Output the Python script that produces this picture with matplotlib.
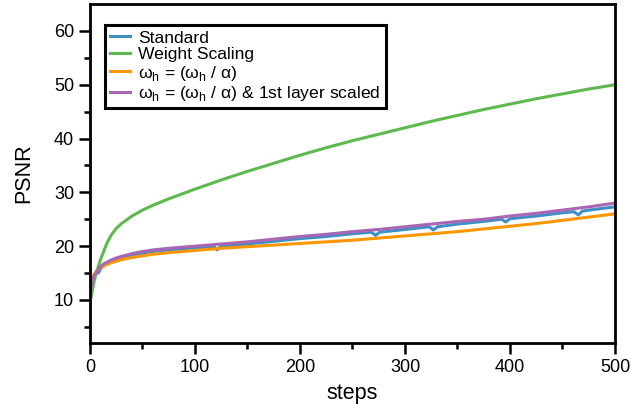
import matplotlib
matplotlib.use('Agg')
import matplotlib.pyplot as plt

plt.rcParams['font.family'] = ['Liberation Sans', 'DejaVu Sans']

steps = [0, 2, 4, 6, 8, 10, 13, 16, 20, 25, 30, 40, 50, 60, 75, 100, 125, 150,
         175, 200, 225, 250, 275, 300, 325, 350, 375, 400, 425, 450, 475, 500]

weight_scaling = [9.5, 11.5, 13.5, 15.0, 16.3, 17.5, 19.0, 20.5, 22.0, 23.3, 24.2,
                  25.6, 26.7, 27.6, 28.8, 30.6, 32.3, 33.9, 35.4, 36.9, 38.3, 39.6,
                  40.8, 42.0, 43.2, 44.3, 45.4, 46.4, 47.4, 48.3, 49.2, 50.0]

omega_scaled = [12.0, 13.8, 14.8, 15.3, 15.7, 16.0, 16.3, 16.6, 16.9, 17.2, 17.5,
                17.9, 18.2, 18.5, 18.8, 19.2, 19.6, 19.9, 20.2, 20.5, 20.8, 21.1,
                21.5, 21.9, 22.3, 22.7, 23.2, 23.7, 24.2, 24.8, 25.4, 26.0]

omega_first_layer = [11.0, 13.5, 14.5, 15.0, 15.6, 16.2, 16.7, 17.0, 17.4, 17.8, 18.1,
                     18.6, 19.0, 19.3, 19.6, 20.0, 20.4, 20.8, 21.3, 21.8, 22.2, 22.7,
                     23.1, 23.6, 24.1, 24.6, 25.0, 25.6, 26.1, 26.7, 27.3, 28.0]

std_steps = [0, 2, 4, 6, 8, 10, 13, 16, 20, 25, 30, 40, 50, 60, 75, 100, 118, 121,
             124, 150, 175, 200, 225, 250, 268, 272, 276, 300, 323, 327, 331, 350,
             375, 392, 396, 400, 425, 450, 461, 465, 469, 475, 500]
standard = [10.5, 13.0, 14.2, 15.3, 15.0, 15.8, 16.4, 16.8, 17.1, 17.5, 17.8,
            18.3, 18.7, 19.0, 19.3, 19.7, 19.9, 19.3, 19.9, 20.4, 20.9, 21.4,
            21.8, 22.3, 22.6, 22.0, 22.6, 23.1, 23.6, 23.0, 23.6, 24.1,
            24.6, 25.0, 24.5, 25.1, 25.6, 26.2, 26.4, 25.8, 26.5, 26.7, 27.3]

colors = ['#3D8FC6', '#5DB94E', '#FF9500', '#A866B5']

fig = plt.figure(figsize=(6.31, 4.04), dpi=100)
ax = fig.add_axes([0.1426, 0.151, 0.832, 0.839])

lw = 2.2
ax.plot(std_steps, standard, color=colors[0], lw=lw, label='Standard')
ax.plot(steps, weight_scaling, color=colors[1], lw=lw, label='Weight Scaling')
ax.plot(steps, omega_scaled, color=colors[2], lw=lw,
        label='ω$_\\mathregular{h}$ = (ω$_\\mathregular{h}$ / α)')
ax.plot(steps, omega_first_layer, color=colors[3], lw=lw,
        label='ω$_\\mathregular{h}$ = (ω$_\\mathregular{h}$ / α) & 1st layer scaled')

ax.set_xlim(0, 500)
ax.set_ylim(2, 65)
ax.set_xticks([0, 100, 200, 300, 400, 500])
ax.set_xticks([50, 150, 250, 350, 450], minor=True)
ax.set_yticks([10, 20, 30, 40, 50, 60])
ax.set_yticks([5, 15, 25, 35, 45, 55], minor=True)

for s in ax.spines.values():
    s.set_linewidth(2.0)
ax.tick_params(which='major', direction='out', length=8, width=1.8, labelsize=13, pad=3.5)
ax.tick_params(which='minor', direction='out', length=4, width=1.8)

ax.set_xlabel('steps', fontsize=15.5, labelpad=5)
ax.set_ylabel('PSNR', fontsize=15.5, labelpad=14)

leg = ax.legend(loc='upper left', bbox_to_anchor=(15 / 525, 1 - 21 / 339),
                borderaxespad=0, fontsize=12.6, fancybox=False, framealpha=1,
                edgecolor='black', handlelength=1.15, handletextpad=0.45,
                labelspacing=0.08, borderpad=0.3)
leg.get_frame().set_linewidth(2.2)

fig.savefig('out.png', dpi=100)
